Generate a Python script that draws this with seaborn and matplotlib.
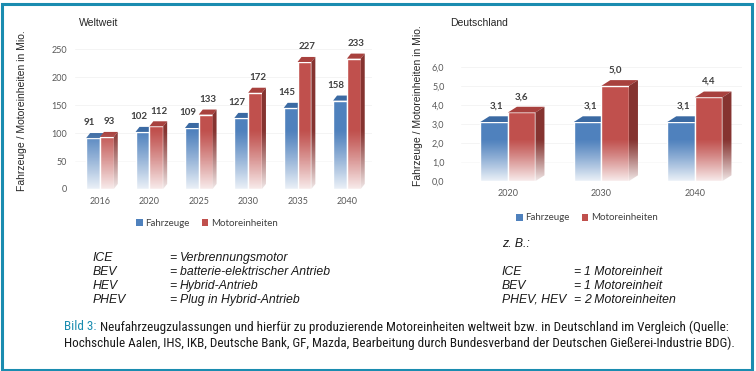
import numpy as np
import pandas as pd
import seaborn as sns
import matplotlib.pyplot as plt
from matplotlib import font_manager
from matplotlib.patches import Polygon, Rectangle

# data
world_years = ['2016', '2020', '2025', '2030', '2035', '2040']
world_fahrzeuge = [91, 102, 109, 127, 145, 158]
world_motoren = [93, 112, 133, 172, 227, 233]

de_years = ['2020', '2030', '2040']
de_fahrzeuge = [3.1, 3.1, 3.1]
de_motoren = [3.6, 5.0, 4.4]

series = ['Fahrzeuge', 'Motoreinheiten']
colors = ['#4f81bd', '#c0504d']
tops = ['#3b6aa3', '#a8413e']
sides = ['#2e5584', '#853330']

abbr = ['ICE', 'BEV', 'HEV', 'PHEV']
meaning = ['Verbrennungsmotor', 'batterie-elektrischer Antrieb', 'Hybrid-Antrieb', 'Plug in Hybrid-Antrieb']
ex_abbr = ['ICE', 'BEV', 'PHEV, HEV']
ex_units = ['1 Motoreinheit', '1 Motoreinheit', '2 Motoreinheiten']

caption_1 = 'Neufahrzeugzulassungen und hierfür zu produzierende Motoreinheiten weltweit bzw. in Deutschland im Vergleich (Quelle:'
caption_2 = 'Hochschule Aalen, IHS, IKB, Deutsche Bank, GF, Mazda, Bearbeitung durch Bundesverband der Deutschen Gießerei-Industrie BDG).'

names = {f.name for f in font_manager.fontManager.ttflist}
cap_font = next((n for n in ['Roboto Condensed', 'Archivo Narrow', 'Barlow Condensed']
                 if n in names), 'DejaVu Sans')

sns.set_theme(style='white')
plt.rcParams['font.family'] = ['Liberation Sans', 'DejaVu Sans']


def long_df(years, a, b):
    return pd.DataFrame({
        'Jahr': years * 2,
        'Wert': a + b,
        'Serie': [series[0]] * len(years) + [series[1]] * len(years),
    })


def draw_chart(ax, df, ymax, ticks, fmt, width, dx, dy, fade_top, lab_dx):
    sns.barplot(data=df, x='Jahr', y='Wert', hue='Serie', palette=colors,
                width=width, gap=0, saturation=1, ax=ax, legend=False, zorder=2)
    for i, cont in enumerate(ax.containers):
        for bar in cont:
            x0 = bar.get_x()
            x1 = x0 + bar.get_width()
            h = bar.get_height()
            z = 2 + i
            bar.set_zorder(z)
            ax.add_patch(Polygon([(x0, h), (x1, h), (x1 + dx, h + dy), (x0 + dx, h + dy)],
                                 closed=True, fc=tops[i], ec='none', zorder=z))
            ax.add_patch(Polygon([(x1, 0), (x1, h), (x1 + dx, h + dy), (x1 + dx, dy)],
                                 closed=True, fc=sides[i], ec='none', zorder=z))
            ax.annotate(fmt(h), (x0 + bar.get_width() / 2 + lab_dx[i], h + dy),
                        xytext=(0, 4), textcoords='offset points', ha='center', va='bottom',
                        fontsize=7, fontweight='bold', color='#404040',
                        family=['Lato', 'DejaVu Sans'], zorder=10, annotation_clip=False)
    n = df['Jahr'].nunique()
    # fade to white towards the floor
    alpha = np.linspace(0.9, 0.0, 100) ** 1.1
    grad = np.ones((100, 1, 4))
    grad[:, 0, 3] = alpha
    ax.imshow(grad, extent=(-0.5, n - 0.5, 0, fade_top), origin='lower',
              aspect='auto', zorder=6, interpolation='bilinear')
    ax.set_xlim(-0.5, n - 0.5)
    ax.set_ylim(0, ymax)
    ax.set_yticks(ticks)
    ax.set_yticklabels([fmt(t) for t in ticks])
    ax.grid(axis='y', color='#f2f2f2', lw=0.6, zorder=0)
    ax.set_axisbelow(True)
    sns.despine(ax=ax, left=True, bottom=True)
    ax.set_xlabel('')
    ax.set_ylabel('')
    ax.tick_params(length=0, labelsize=6.5, colors='#595959')
    for lab in ax.get_xticklabels() + ax.get_yticklabels():
        lab.set_family(['Lato', 'DejaVu Sans'])


fig = plt.figure(figsize=(7.56, 3.71), dpi=100)
fig.patch.set_facecolor('white')

ax1 = fig.add_axes([0.0996, 0.4906, 0.392, 0.377])
draw_chart(ax1, long_df(world_years, world_fahrzeuge, world_motoren),
           250, [0, 50, 100, 150, 200, 250], lambda v: f'{v:.0f}',
           0.56, 0.08, 9, 105, (-0.08, 0.05))
ax1.tick_params(axis='y', pad=6)
ax1.tick_params(axis='x', pad=6)

ax2 = fig.add_axes([0.610, 0.512, 0.371, 0.308])
draw_chart(ax2, long_df(de_years, de_fahrzeuge, de_motoren),
           6, [0, 1, 2, 3, 4, 5, 6], lambda v: f'{v:.1f}'.replace('.', ','),
           0.59, 0.096, 0.3, 2.2, (0.03, 0.0))
ax2.tick_params(axis='y', pad=12)
ax2.tick_params(axis='x', pad=6)

# titles and axis labels
fig.text(79 / 756, 1 - 23 / 371, 'Weltweit', fontsize=7.5, va='center', ha='left')
fig.text(450 / 756, 1 - 23 / 371, 'Deutschland', fontsize=7.5, va='center', ha='left')
ylab = 'Fahrzeuge / Motoreinheiten in Mio.'
fig.text(22 / 756, 1 - 111 / 371, ylab, rotation=90, fontsize=7.5, va='center', ha='center')
fig.text(418 / 756, 1 - 106 / 371, ylab, rotation=90, fontsize=7.5, va='center', ha='center')

# legends
handles = [Rectangle((0, 0), 1, 1, fc=c, ec='none') for c in colors]
for cx, cy in [(207, 223), (587, 218)]:
    leg = fig.legend(handles, series, loc='center', bbox_to_anchor=(cx / 756, 1 - cy / 371),
                     ncol=2, frameon=False, fontsize=7, handlelength=0.7, handleheight=0.7,
                     handletextpad=0.3, columnspacing=1.2)
    for t in leg.get_texts():
        t.set_color('#404040')
        t.set_family(['Lato', 'DejaVu Sans'])

fig.canvas.draw()
renderer = fig.canvas.get_renderer()


def fitted_size(s, target_px, **kw):
    probe = fig.text(0, 0, s, fontsize=10, **kw)
    w = probe.get_window_extent(renderer).width
    probe.remove()
    return 10 * target_px / w


# abbreviations
it = dict(style='italic', family=['Liberation Sans', 'DejaVu Sans'], va='center', color='#1a1a1a')
fs_it = fitted_size(meaning[1], 150, style='italic', family=['Liberation Sans', 'DejaVu Sans'])

for k, (a, m) in enumerate(zip(abbr, meaning)):
    y = 1 - (258 + 14 * k) / 371
    fig.text(93 / 756, y, a, fontsize=fs_it, **it)
    fig.text(169 / 756, y, '=', fontsize=fs_it, **it)
    fig.text(180 / 756, y, m, fontsize=fs_it, **it)

fig.text(502 / 756, 1 - 244 / 371, 'z. B.:', fontsize=fs_it, **it)
for k, (a, m) in enumerate(zip(ex_abbr, ex_units)):
    y = 1 - (272 + 14 * k) / 371
    fig.text(502 / 756, y, a, fontsize=fs_it, **it)
    fig.text(573 / 756, y, '=', fontsize=fs_it, **it)
    fig.text(584 / 756, y, m, fontsize=fs_it, **it)

# caption
teal = '#1a8cb0'
fs_cap = min(fitted_size('Bild 3: ' + caption_1, 671, family=cap_font),
             fitted_size(caption_2, 672, family=cap_font))

t1 = fig.text(64 / 756, 1 - 327 / 371, 'Bild 3: ', fontsize=fs_cap, family=cap_font, color=teal, va='center')
bb = t1.get_window_extent(renderer)
fig.text(bb.x1 / fig.bbox.width, 1 - 327 / 371, caption_1,
         fontsize=fs_cap, family=cap_font, color='#1a1a1a', va='center')
fig.text(64 / 756, 1 - 343 / 371, caption_2,
         fontsize=fs_cap, family=cap_font, color='#1a1a1a', va='center')

# frame
fig.add_artist(Rectangle((1.5 / 756, 1.5 / 371), 1 - 6 / 756, 1 - 5 / 371, transform=fig.transFigure,
                         fill=False, ec=teal, lw=2.2))

fig.savefig('out.png', dpi=100)
